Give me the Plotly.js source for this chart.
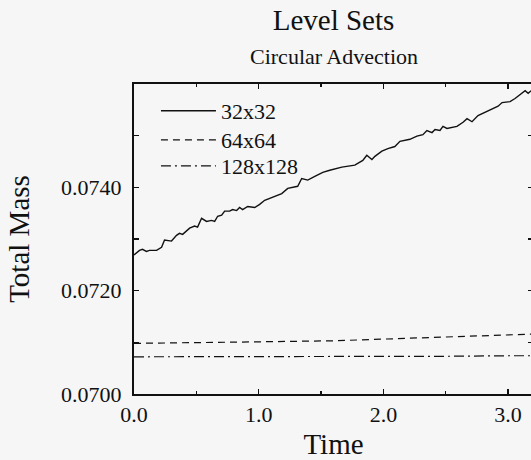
<!DOCTYPE html>
<html>
<head>
<meta charset="utf-8">
<script src="https://cdn.plot.ly/plotly-3.0.1.min.js"></script>
<style>
html,body{margin:0;padding:0;overflow:hidden;background:#f6f6f6;}
#chart{width:545px;height:460px;}
</style>
</head>
<body>
<div id="chart"></div>
<script>
// 32x32 grid: total mass over time
const t32 = [0.0,0.044,0.068,0.100,0.124,0.181,0.221,0.245,0.301,0.341,0.365,0.390,0.446,0.486,0.510,0.542,0.582,0.622,0.647,0.671,0.703,0.727,0.767,0.791,0.823,0.847,0.871,0.912,0.968,1.008,1.048,1.088,1.145,1.185,1.233,1.313,1.345,1.394,1.450,1.514,1.570,1.667,1.771,1.835,1.867,1.908,1.932,1.988,2.036,2.092,2.133,2.213,2.269,2.317,2.349,2.390,2.414,2.454,2.478,2.510,2.590,2.639,2.671,2.711,2.759,2.831,2.880,2.920,2.952,3.016,3.056,3.080,3.137,3.161,3.185];
const m32 = [0.07269,0.07278,0.07280,0.07276,0.07278,0.07278,0.07284,0.07298,0.07296,0.07307,0.07311,0.07309,0.07321,0.07325,0.07323,0.07340,0.07334,0.07336,0.07334,0.07344,0.07346,0.07354,0.07354,0.07357,0.07355,0.07361,0.07357,0.07363,0.07361,0.07367,0.07375,0.07379,0.07385,0.07388,0.07398,0.07402,0.07417,0.07414,0.07421,0.07429,0.07433,0.07439,0.07443,0.07452,0.07462,0.07454,0.07460,0.07470,0.07475,0.07479,0.07489,0.07493,0.07499,0.07502,0.07510,0.07506,0.07512,0.07510,0.07518,0.07514,0.07518,0.07526,0.07533,0.07527,0.07539,0.07547,0.07551,0.07557,0.07564,0.07566,0.07572,0.07576,0.07587,0.07582,0.07587];
// 64x64 grid
const t64 = [0.0,0.5,1.0,1.6,2.0,2.5,3.0,3.2];
const m64 = [0.07098,0.07099,0.07101,0.07103,0.07106,0.07110,0.07114,0.07116];
// 128x128 grid
const t128 = [0.0,0.5,1.0,1.5,2.0,2.5,3.0,3.2];
const m128 = [0.07072,0.07072,0.07072,0.07073,0.07073,0.07073,0.07074,0.07074];

const seriesNames = ["32x32","64x64","128x128"];
const xTickVals = [0,1,2,3];
const xTickText = ["0.0","1.0","2.0","3.0"];
const yTickVals = [0.070,0.071,0.072,0.073,0.074,0.075,0.076];
const yTickText = ["0.0700","","0.0720","","0.0740","",""];
const titleText = "Level Sets";
const subtitleText = "Circular Advection";

const serif = "Liberation Serif, Times New Roman, serif";
const ink = "#111111";

const traces = [
  {x:t32, y:m32, name:seriesNames[0], mode:"lines", legend:"legend",
   line:{color:ink, width:1.4}},
  {x:t64, y:m64, name:seriesNames[1], mode:"lines", legend:"legend2",
   line:{color:ink, width:1.2, dash:"7px,5px"}},
  {x:t128, y:m128, name:seriesNames[2], mode:"lines", legend:"legend3",
   line:{color:ink, width:1.2, dash:"10px,4px,2px,4px"}}
];

function legendAt(yPaper){
  return {
    x:0.055, y:yPaper, xanchor:"left", yanchor:"top",
    bgcolor:"rgba(0,0,0,0)", borderwidth:0,
    font:{family:serif, size:22, color:ink},
    itemwidth:55
  };
}

const layout = {
  width:545, height:460,
  margin:{l:134, r:12, t:84, b:66},
  paper_bgcolor:"#f6f6f6", plot_bgcolor:"#f6f6f6",
  font:{family:serif, color:ink, size:22},
  title:{
    text:titleText,
    font:{family:serif, size:29, color:ink},
    xref:"paper", x:0.5, xanchor:"center",
    yref:"container", y:1-20/460, yanchor:"middle"
  },
  annotations:[{
    text:subtitleText, xref:"paper", yref:"paper", x:0.5, y:1+(84-57)/310,
    xanchor:"center", yanchor:"middle", showarrow:false,
    font:{family:serif, size:22, color:ink}
  }],
  showlegend:true,
  legend:legendAt(1-(90-84)/310),
  legend2:legendAt(1-(119-84)/310),
  legend3:legendAt(1-(145-84)/310),
  xaxis:{
    range:[0,3.2], tickvals:xTickVals, ticktext:xTickText,
    ticks:"inside", ticklen:5, tickwidth:1.5, tickcolor:ink,
    showline:true, linewidth:2, linecolor:ink, mirror:"ticks",
    showgrid:false, zeroline:false,
    minor:{dtick:0.5, tick0:0, ticks:"inside", ticklen:3, tickwidth:1.5, tickcolor:ink, showgrid:false},
    tickfont:{family:serif, size:22, color:ink},
    title:{text:"Time", font:{family:serif, size:29, color:ink}, standoff:8}
  },
  yaxis:{
    range:[0.070,0.076], tickvals:yTickVals, ticktext:yTickText,
    ticks:"inside", ticklen:5, tickwidth:1.5, tickcolor:ink,
    showline:true, linewidth:2, linecolor:ink, mirror:"ticks",
    showgrid:false, zeroline:false,
    ticklabelstandoff:6,
    tickfont:{family:serif, size:22, color:ink},
    title:{text:"Total Mass", font:{family:serif, size:29, color:ink}, standoff:23}
  }
};

Plotly.newPlot("chart", traces, layout, {displayModeBar:false, staticPlot:true});
</script>
</body>
</html>
